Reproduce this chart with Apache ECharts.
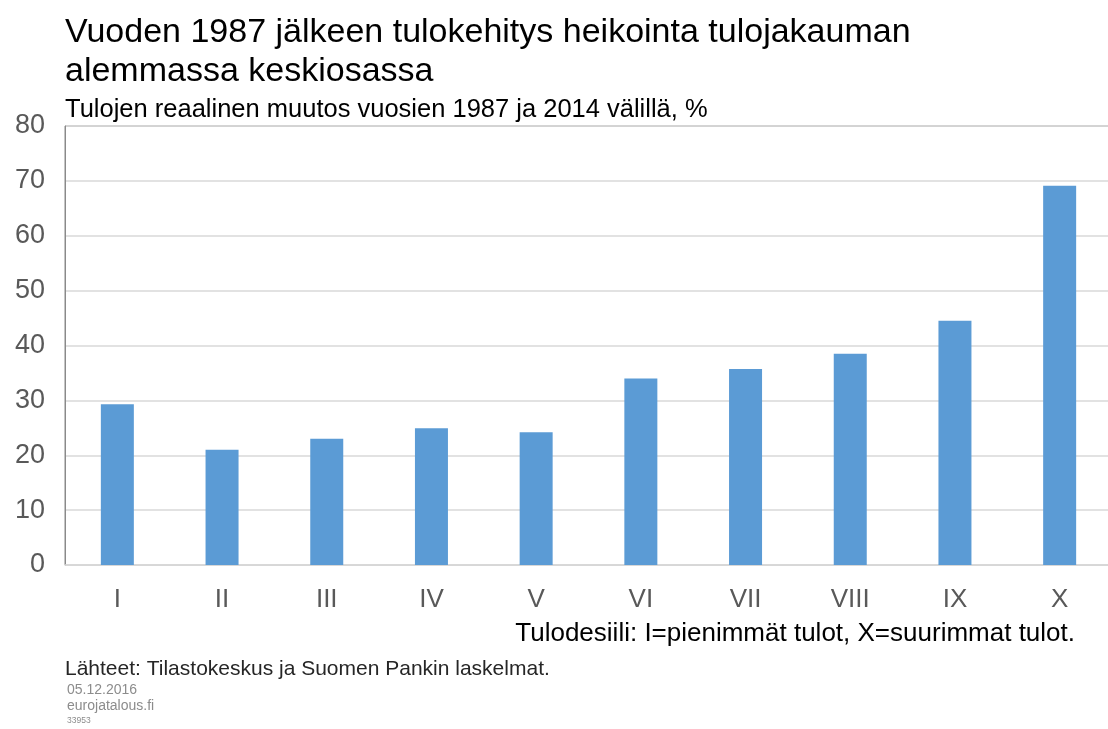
<!DOCTYPE html>
<html>
<head>
<meta charset="utf-8">
<script src="https://cdn.jsdelivr.net/npm/echarts@6/dist/echarts.min.js"></script>
<style>
html,body{margin:0;padding:0;background:#fff;}
#c{width:1108px;height:729px;}
</style>
</head>
<body>
<div id="c"></div>
<script>
const categories = ['I','II','III','IV','V','VI','VII','VIII','IX','X'];
const values = [29.3, 21.0, 23.0, 24.9, 24.2, 34.0, 35.7, 38.5, 44.5, 69.1];
const yTicks = [0, 10, 20, 30, 40, 50, 60, 70, 80];

const FONT = '"Liberation Sans", Arial, sans-serif';
const chart = echarts.init(document.getElementById('c'), null, {renderer:'canvas'});
chart.setOption({
  animation: false,
  backgroundColor: '#ffffff',
  textStyle: {fontFamily: FONT},
  title: [
    {text: 'Vuoden 1987 jälkeen tulokehitys heikointa tulojakauman\nalemmassa keskiosassa', left: 65, top: 13, padding: 0,
     textStyle: {fontFamily: FONT, fontSize: 34, fontWeight: 'normal', color: '#000', lineHeight: 39}},
    {text: 'Tulojen reaalinen muutos vuosien 1987 ja 2014 välillä, %', left: 65, top: 97, padding: 0,
     textStyle: {fontFamily: FONT, fontSize: 25.5, fontWeight: 'normal', color: '#000'}},
    {text: 'Lähteet: Tilastokeskus ja Suomen Pankin laskelmat.', left: 65, top: 659, padding: 0,
     textStyle: {fontFamily: FONT, fontSize: 21, fontWeight: 'normal', color: '#262626'}},
    {text: '05.12.2016', left: 67, top: 683, padding: 0,
     textStyle: {fontFamily: FONT, fontSize: 14, fontWeight: 'normal', color: '#8c8c8c'}},
    {text: 'eurojatalous.fi', left: 67, top: 699, padding: 0,
     textStyle: {fontFamily: FONT, fontSize: 14, fontWeight: 'normal', color: '#8c8c8c'}},
    {text: '33953', left: 67, top: 716, padding: 0,
     textStyle: {fontFamily: FONT, fontSize: 8.5, fontWeight: 'normal', color: '#8c8c8c'}}
  ],
  grid: {left: 65, width: 1047, top: 126, height: 439, outerBoundsMode: 'none', containLabel: false,
         show: true, borderColor: '#8a8a8a', borderWidth: 1, backgroundColor: 'transparent'},
  xAxis: {
    type: 'category',
    data: categories,
    name: 'Tulodesiili: I=pienimmät tulot, X=suurimmat tulot.',
    nameLocation: 'end',
    nameGap: 0,
    nameTextStyle: {fontFamily: FONT, fontSize: 26, color: '#000', align: 'right', verticalAlign: 'top', padding: [56, 37, 0, 0]},
    axisLine: {lineStyle: {color: '#d9d9d9', width: 1.5}},
    axisTick: {show: false},
    axisLabel: {fontFamily: FONT, fontSize: 26, color: '#595959', margin: 22},
    splitLine: {show: false}
  },
  yAxis: {
    type: 'value',
    min: 0, max: 80, interval: 10,
    axisLine: {show: true, lineStyle: {color: '#8a8a8a'}},
    axisTick: {show: false},
    axisLabel: {fontFamily: FONT, fontSize: 27, color: '#595959', margin: 20,
      formatter: v => yTicks.includes(v) ? String(v) : ''},
    splitLine: {lineStyle: {color: '#d9d9d9', width: 1.5}}
  },
  series: [{
    type: 'bar',
    data: values,
    barWidth: 33,
    itemStyle: {color: '#5b9bd5'}
  }]
});
</script>
</body>
</html>
